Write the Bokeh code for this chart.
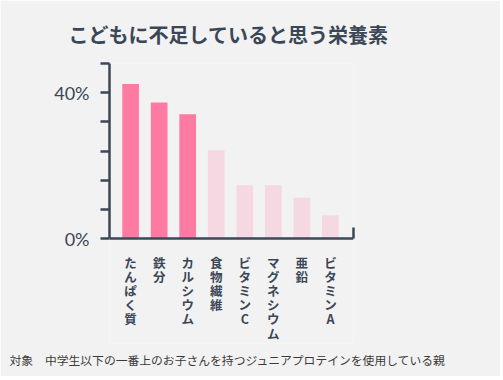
from bokeh.plotting import figure
from bokeh.models import Range1d, FixedTicker, LinearAxis, Title, ColumnDataSource
from bokeh.core.properties import value
from bokeh.embed import file_html
from bokeh.resources import INLINE

title_text = "こどもに不足していると思う栄養素"
footnote = "対象　中学生以下の一番上のお子さんを持つジュニアプロテインを使用している親"
categories = ["たんぱく質", "鉄分", "カルシウム", "食物繊維", "ビタミンC", "マグネシウム", "亜鉛", "ビタミンA"]
values = [42.4, 37.3, 34.1, 24.2, 14.6, 14.6, 11.2, 6.4]
highlight = [True, True, True, False, False, False, False, False]
y_ticks = [0, 8, 16, 24, 32, 40, 48]
y_tick_labels = {0: "0%", 40: "40%"}

BG = "#f2f2f2"
AX = "#3b4757"
STRONG = "#fd7ba3"
LIGHT = "#f5d8e1"

# layout (pixels)
W, H = 500, 376
FRAME_L, FRAME_R, FRAME_T, FRAME_B = 109, 352.7, 63, 343
ZERO_PX = 238
Y_MAX = 48
ppu = (ZERO_PX - FRAME_T) / Y_MAX          # pixels per percent
y_start = -(FRAME_B - ZERO_PX) / ppu
x_start, x_end = -0.74, 7.81

p = figure(width=W, height=H, output_backend="svg", toolbar_location=None,
           x_range=Range1d(x_start, x_end), y_range=Range1d(y_start, Y_MAX),
           min_border_left=FRAME_L, min_border_right=int(W - FRAME_R),
           min_border_top=FRAME_T, min_border_bottom=H - FRAME_B)
p.background_fill_color = BG
p.border_fill_color = BG
p.outline_line_color = None
p.grid.visible = False

# title
p.title.text = title_text
p.title.align = "left"
p.title.offset = -41
p.title.text_font = "Noto Sans CJK JP"
p.title.text_font_size = "20px"
p.title.text_font_style = "bold"
p.title.text_color = AX
p.title.standoff = 30

xs = list(range(len(categories)))
colors = [STRONG if h else LIGHT for h in highlight]
p.vbar(x=xs, top=values, width=0.585, bottom=0, color=colors, line_color=None)

# y axis (only over the data range)
ya = p.yaxis[0]
ya.bounds = (0, Y_MAX)
ya.ticker = FixedTicker(ticks=y_ticks)
ya.major_label_overrides = {t: y_tick_labels.get(t, "") for t in y_ticks}
ya.axis_line_color = AX
ya.axis_line_width = 2.5
ya.major_tick_line_color = AX
ya.major_tick_line_width = 2.5
ya.major_tick_out = 9
ya.major_tick_in = 0
ya.minor_tick_line_color = None
ya.major_label_text_font = "Lato"
ya.major_label_text_font_size = "18px"
ya.major_label_text_color = AX
ya.major_label_standoff = 11

# x axis line at 0
xa = p.xaxis[0]
xa.fixed_location = 0
xa.ticker = FixedTicker(ticks=[])
xa.axis_line_color = AX
xa.axis_line_width = 2.5
xa.major_tick_line_color = None
xa.minor_tick_line_color = None
xa.major_label_text_font_size = "0px"

# right end cap of the x axis
ra = LinearAxis(ticker=FixedTicker(ticks=[]), bounds=(0, 3.0),
                axis_line_color=AX, axis_line_width=2.5,
                major_tick_line_color=None, minor_tick_line_color=None,
                major_label_text_font_size="0px")
p.add_layout(ra, "right")

# vertical category labels, one character per row
LABEL_GAP, CHAR_STEP = 14, 14.2
cx, cy, ct = [], [], []
for i, cat in enumerate(categories):
    for j, ch in enumerate(cat):
        cx.append(i)
        cy.append(-(LABEL_GAP + j * CHAR_STEP) / ppu)
        ct.append(ch)
src = ColumnDataSource(dict(x=cx, y=cy, t=ct))
p.text(x="x", y="y", text="t", source=src, text_align="center", text_baseline="top",
       text_font=value("Noto Sans CJK JP"), text_font_size="12.5px",
       text_font_style="bold", text_color=AX)

# footnote
fn = Title(text=footnote, align="left", offset=-100, text_font="Noto Sans CJK JP",
           text_font_size="11.8px", text_font_style="normal", text_color="#3a3a3a", standoff=10)
p.add_layout(fn, "below")

html = file_html(p, INLINE)
html = html.replace("<body>", '<body style="background:#f2f2f2">', 1)
open("out.html", "w").write(html)
